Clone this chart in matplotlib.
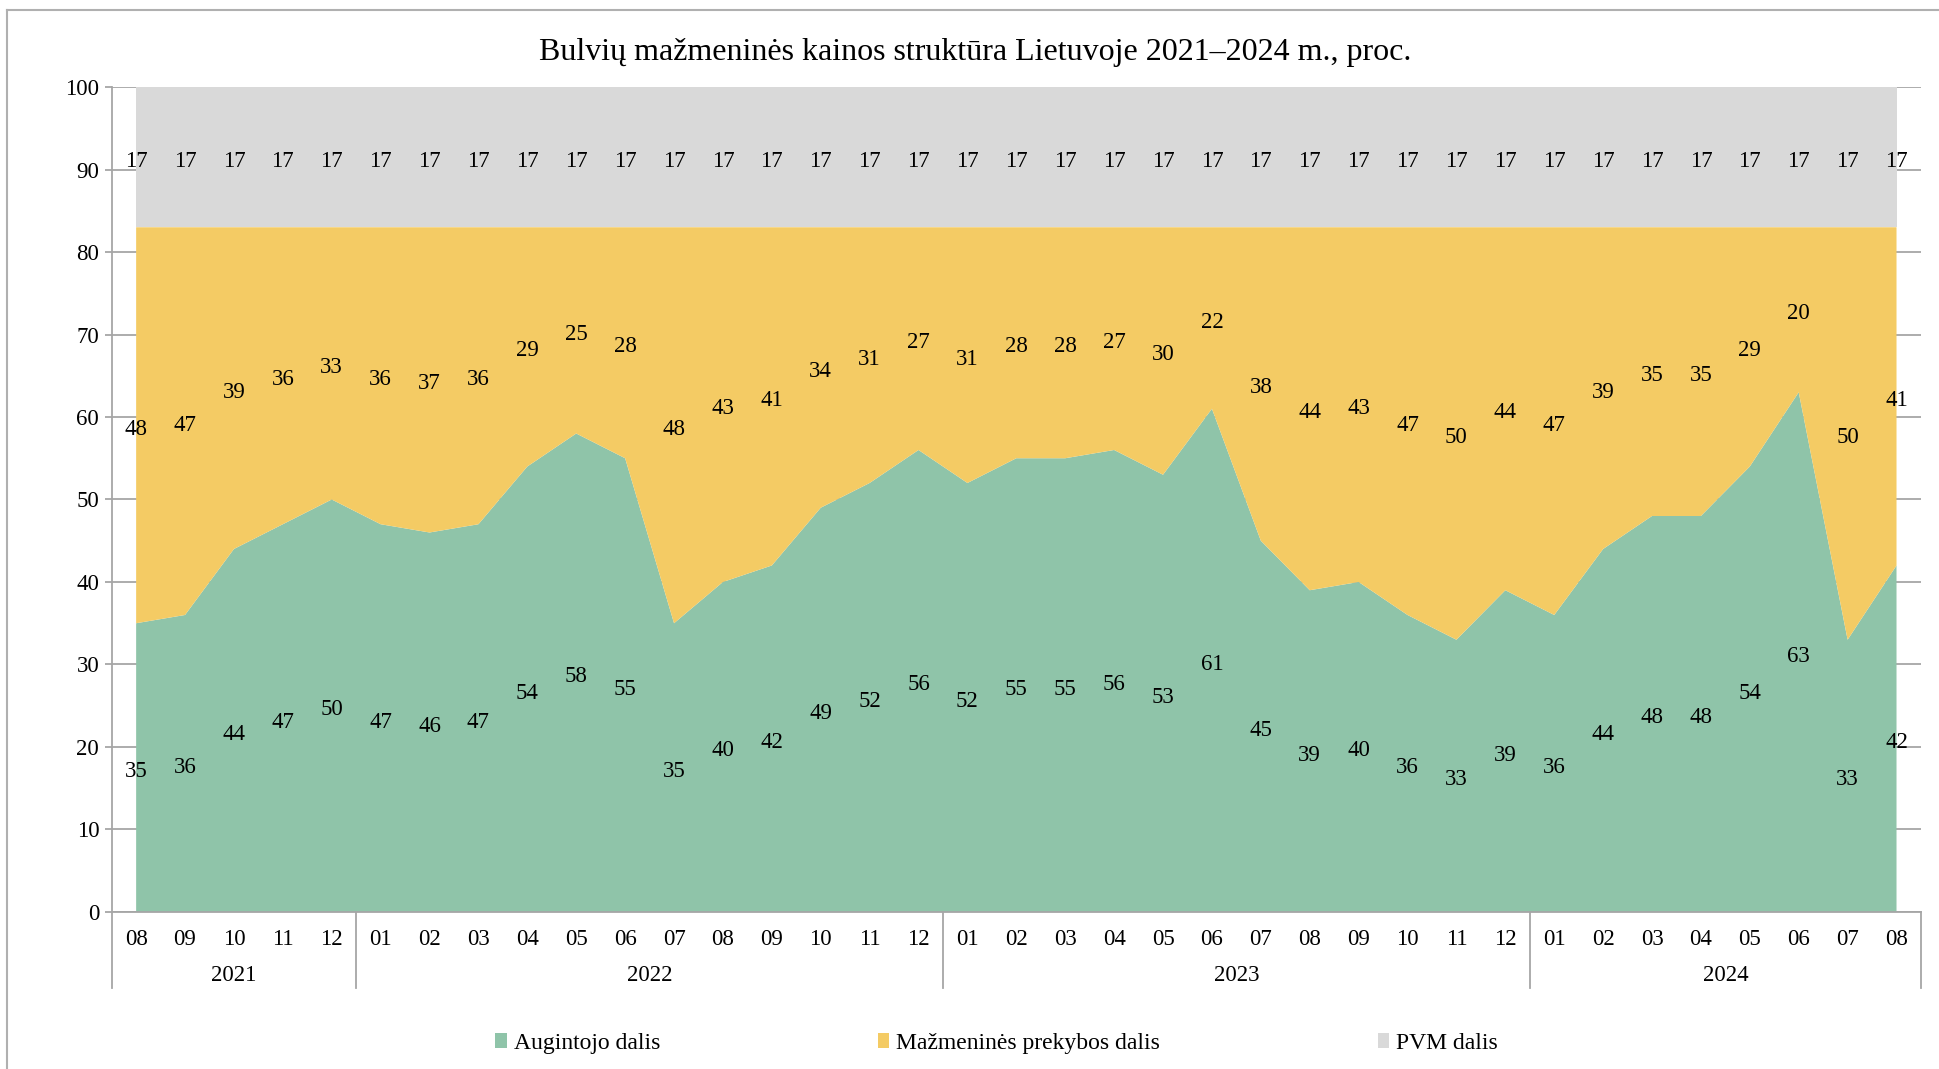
import matplotlib
matplotlib.use('Agg')
import matplotlib.pyplot as plt
import matplotlib.transforms as mtransforms
from matplotlib.patches import Patch
from matplotlib.lines import Line2D
import numpy as np

plt.rcParams['font.family'] = ['Liberation Serif', 'DejaVu Serif']

# data
years = ['2021', '2022', '2023', '2024']
months = [['08', '09', '10', '11', '12'],
          ['01', '02', '03', '04', '05', '06', '07', '08', '09', '10', '11', '12'],
          ['01', '02', '03', '04', '05', '06', '07', '08', '09', '10', '11', '12'],
          ['01', '02', '03', '04', '05', '06', '07', '08']]
grower = [35, 36, 44, 47, 50,
          47, 46, 47, 54, 58, 55, 35, 40, 42, 49, 52, 56,
          52, 55, 55, 56, 53, 61, 45, 39, 40, 36, 33, 39,
          36, 44, 48, 48, 54, 63, 33, 42]
retail = [48, 47, 39, 36, 33,
          36, 37, 36, 29, 25, 28, 48, 43, 41, 34, 31, 27,
          31, 28, 28, 27, 30, 22, 38, 44, 43, 47, 50, 44,
          47, 39, 35, 35, 29, 20, 50, 41]
vat = [17] * 37
series_names = ['Augintojo dalis', 'Mažmeninės prekybos dalis', 'PVM dalis']
colors = ['#8fc4a9', '#f4cb64', '#d9d9d9']

title = 'Bulvių mažmeninės kainos struktūra Lietuvoje 2021–2024 m., proc.'

grower = np.array(grower)
retail = np.array(retail)
vat = np.array(vat)
x = np.arange(len(grower))
month_labels = [m for ms in months for m in ms]

fig = plt.figure(figsize=(19.39, 10.69), dpi=100)
ax = fig.add_axes([0.0576, 0.1469, 0.9331, 0.7717])

ax.stackplot(x, grower, retail, vat, colors=colors, linewidth=0)
ax.set_xlim(-0.5, len(x) - 0.5)
ax.set_ylim(0, 100)
ax.set_yticks(range(0, 101, 10))
ax.grid(axis='y', color='#a6a6a6', linewidth=1.3)
ax.set_axisbelow(True)
for s in ['top', 'right']:
    ax.spines[s].set_visible(False)
for s in ['left', 'bottom']:
    ax.spines[s].set_color('#a6a6a6')
    ax.spines[s].set_linewidth(1.3)
ax.tick_params(axis='y', direction='out', length=5, width=1.3, color='#a6a6a6',
               labelsize=16.5, pad=4)
ax.set_xticks(x)
ax.set_xticklabels(month_labels)
ax.tick_params(axis='x', length=0, labelsize=16.5, pad=12)

# data labels in the middle of each band (nudged down a few px like Excel)
lbl = mtransforms.offset_copy(ax.transData, fig=fig, x=0, y=-4, units='dots')
for i in x:
    ax.text(i, grower[i] / 2, str(grower[i]), transform=lbl,
            ha='center', va='center', fontsize=16.5)
    ax.text(i, grower[i] + retail[i] / 2, str(retail[i]), transform=lbl,
            ha='center', va='center', fontsize=16.5)
    ax.text(i, grower[i] + retail[i] + vat[i] / 2, str(vat[i]), transform=lbl,
            ha='center', va='center', fontsize=16.5)

# year groups under the month labels
trans = mtransforms.blended_transform_factory(ax.transData, ax.transAxes)
start = 0
bounds = [-0.5]
for yr, ms in zip(years, months):
    mid = start + (len(ms) - 1) / 2
    ax.text(mid, -0.0776, yr, transform=trans, ha='center', va='center', fontsize=16.5)
    start += len(ms)
    bounds.append(start - 0.5)
for b in bounds:
    ax.plot([b, b], [0, -0.092], transform=trans, color='#a6a6a6', lw=1.3, clip_on=False)

fig.text(0.503, 0.951, title, ha='center', va='center', fontsize=23)

handles = [Patch(facecolor=c, edgecolor='none') for c in colors]
fig.legend(handles, series_names, loc='center', bbox_to_anchor=(0.514, 0.0243), ncol=3,
           frameon=False, fontsize=17, handlelength=0.5, handleheight=0.6,
           handletextpad=0.3, columnspacing=9.2)

# outer chart frame
fig.add_artist(Line2D([7 / 1939, 7 / 1939], [0, 1 - 10 / 1069], color='#b0b0b0', lw=1.5))
fig.add_artist(Line2D([7 / 1939, 1], [1 - 10 / 1069, 1 - 10 / 1069], color='#b0b0b0', lw=1.5))

fig.savefig('out.png', dpi=100)
